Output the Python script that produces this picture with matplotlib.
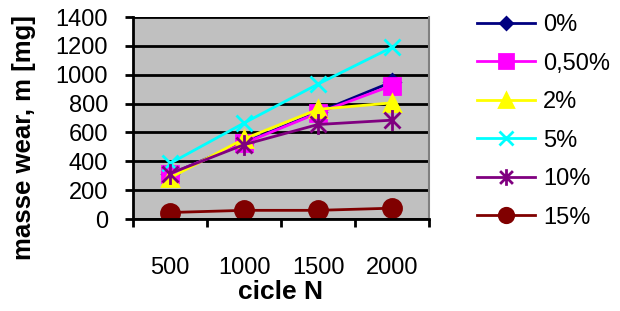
import numpy as np
import matplotlib.pyplot as plt
from matplotlib.path import Path

plt.rcParams['font.family'] = ['Liberation Sans', 'DejaVu Sans']

# data
cycles = ['500', '1000', '1500', '2000']
labels = ['0%', '0,50%', '2%', '5%', '10%', '15%']
wear_0 = [310, 530, 740, 950]
wear_05 = [310, 525, 735, 925]
wear_2 = [285, 555, 760, 805]
wear_5 = [385, 665, 935, 1190]
wear_10 = [315, 515, 655, 685]
wear_15 = [45, 60, 60, 75]

# excel style asterisk: x plus vertical bar
star = Path([(-1, -1), (1, 1), (-1, 1), (1, -1), (0, -1.3), (0, 1.3)],
            [Path.MOVETO, Path.LINETO, Path.MOVETO, Path.LINETO, Path.MOVETO, Path.LINETO])

series = [
    (wear_0, '#000080', 'D', 8),
    (wear_05, '#FF00FF', 's', 12),
    (wear_2, '#FFFF00', '^', 12),
    (wear_5, '#00FFFF', 'x', 12),
    (wear_10, '#800080', star, 15),
    (wear_15, '#800000', 'o', 13),
]

fig = plt.figure(figsize=(6.2, 3.11), dpi=100)
ax = fig.add_axes([133/620, 1 - 219/311, (429-133)/620, (219-17)/311])
ax.set_facecolor('#C0C0C0')

x = np.arange(len(cycles))
for (vals, col, mk, ms), lab in zip(series, labels):
    ax.plot(x, vals, color=col, lw=2, marker=mk, ms=ms, mew=2,
            mfc=col, mec=col, label=lab)

ax.set_ylim(0, 1400)
ax.set_yticks(np.arange(0, 1401, 200))
ax.yaxis.grid(True, color='black', lw=2)
ax.set_axisbelow(True)
ax.set_xlim(-0.5, 3.5)
ax.set_xticks(np.arange(-0.5, 3.6, 1))
ax.set_xticklabels([])
ax.set_xticks(x, minor=True)
ax.set_xticklabels(cycles, minor=True)
ax.tick_params(axis='x', which='minor', length=0, pad=27, labelsize=17)
ax.tick_params(axis='x', which='major', length=6, width=2)
ax.tick_params(axis='y', length=6, width=2, labelsize=17, pad=12)

for s in ['left', 'bottom']:
    ax.spines[s].set_linewidth(2)
ax.spines['top'].set_visible(False)
ax.spines['right'].set_color('#808080')
ax.spines['right'].set_linewidth(1.5)

# y label sits lower than the axes centre in the original
fig.text(24/620, 1 - 137/311, 'masse wear, m [mg]', rotation=90, ha='center',
         va='center', fontsize=18.5, fontweight='bold')
ax.set_xlabel('cicle N', fontsize=19, fontweight='bold', labelpad=1)

fig.legend(loc='upper left', bbox_to_anchor=(477/620, 1 - 14/311), frameon=False,
           fontsize=17, handlelength=2.45, handletextpad=0.35, labelspacing=0.7,
           borderpad=0, borderaxespad=0, markerscale=0.8)

fig.savefig('out.png', dpi=100)
